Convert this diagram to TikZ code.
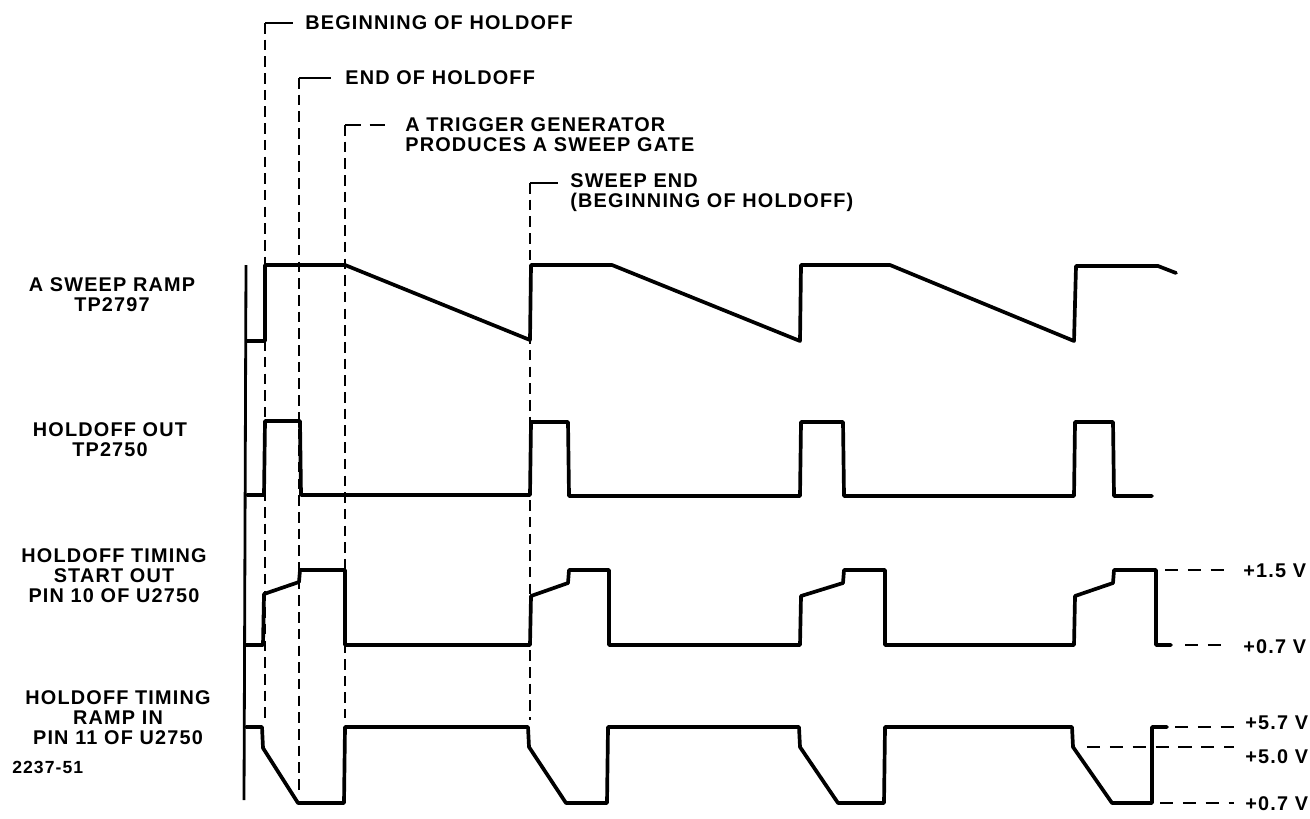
\documentclass[tikz,border=0pt]{standalone}
\usepackage{fontspec}
\newfontfamily\lblfont[LetterSpace=6]{Liberation Sans}
\usetikzlibrary{positioning}

\begin{document}
\begin{tikzpicture}[
  x=0.02cm, y=-0.02cm,
  trace/.style={line width=2.1pt, line join=round, line cap=round},
  axisline/.style={line width=1.6pt},
  marker/.style={line width=0.9pt, dash pattern=on 6pt off 3.5pt},
  leader/.style={line width=0.9pt},
  level/.style={line width=1pt, dash pattern=on 7.5pt off 5.5pt},
  lbl/.style={font=\lblfont\bfseries\fontsize{11.3}{11.4}\selectfont, inner sep=0pt},
  sig/.style={lbl, align=center}
]
\useasboundingbox (0,0) rectangle (1310,818);

% signal names
\node[sig] (ramp) at (112,295) {A SWEEP RAMP\\TP2797};
\node[sig] (hout) at (110,440) {HOLDOFF OUT\\TP2750};
\node[sig] (tstart) at (114,576) {HOLDOFF TIMING\\START OUT\\PIN 10 OF U2750};
\node[sig] (tramp) at (118,718) {HOLDOFF TIMING\\RAMP IN\\PIN 11 OF U2750};
\node[lbl, font=\lblfont\bfseries\fontsize{10}{11}\selectfont, anchor=west] (fig) at (12,767) {2237-51};

% time markers
\node[lbl, anchor=west] (bhold) at (305,23) {BEGINNING OF HOLDOFF};
\node[lbl, anchor=west] (ehold) at (345,78) {END OF HOLDOFF};
\node[lbl, anchor=west, align=left] (trig) at (405,135) {A TRIGGER GENERATOR\\PRODUCES A SWEEP GATE};
\node[lbl, anchor=west, align=left] (send) at (570,193) {SWEEP END\\(BEGINNING OF HOLDOFF)};
\coordinate (mk1) at (265,718);
\coordinate (mk2) at (299,790);
\coordinate (mk3) at (345,718);
\coordinate (mk4) at (530,720);
\coordinate (top1) at (mk1 |- bhold.west);
\coordinate (top2) at (mk2 |- ehold.west);
\coordinate (top3) at ([yshift=5.7pt]mk3 |- trig.west);
\coordinate (top4) at ([yshift=5.7pt]mk4 |- send.west);
\draw[leader] ([xshift=-7pt]bhold.west) -- (top1);
\draw[marker] (top1) -- (mk1);
\draw[leader] ([xshift=-8pt]ehold.west) -- (top2);
\draw[marker] (top2) -- (mk2);
\draw[marker, dash pattern=on 9pt off 5pt] (top3) -- ([xshift=-10pt]trig.west |- top3);
\draw[marker] (top3) -- (mk3);
\draw[leader] ([xshift=-7pt]send.west |- top4) -- (top4);
\draw[marker] (top4) -- (mk4);

% axis
\draw[axisline] (246,265) -- (244,800);

% A sweep ramp
\draw[trace] (247,341) -- (265,341) -- (265,265) -- (345,265) -- (530,340)
  -- (531,265) -- (612,265) -- (800,341) -- (801,265) -- (890,265)
  -- (1074,341) -- (1076,266) -- (1158,266) -- (1176,273);

% holdoff out
\draw[trace] (247,495) -- (264,495) -- (265,421) -- (300,421) -- (301,495)
  -- (530,495) -- (531,422) -- (568,422) -- (569,496) -- (800,496)
  -- (801,422) -- (843,422) -- (844,496) -- (1074,496) -- (1075,422)
  -- (1113,422) -- (1114,496) -- (1152,496);

% holdoff timing start out
\draw[trace] (246,645) -- (263,645) -- (264,594) -- (299,582) -- (300,570)
  -- (345,570) -- (345,645) -- (530,645) -- (531,596) -- (568,583)
  -- (569,570) -- (609,570) -- (609,645) -- (800,645) -- (801,596)
  -- (843,583) -- (844,570) -- (885,570) -- (885,645) -- (1074,645)
  -- (1075,596) -- (1113,583) -- (1114,570) -- (1156,570) -- (1156,645)
  -- (1171,645);

% holdoff timing ramp in
\draw[trace] (246,727) -- (262,727) -- (263,748) -- (298,803) -- (344,803)
  -- (345,727) -- (528,727) -- (529,747) -- (566,803) -- (607,803)
  -- (608,727) -- (799,727) -- (800,747) -- (838,803) -- (884,803)
  -- (885,727) -- (1072,727) -- (1073,747) -- (1112,803) -- (1152,803)
  -- (1152,727) -- (1167,727);

% voltage levels
\node[lbl, anchor=west] (v15) at (1243,571) {+1.5 V};
\node[lbl, anchor=west] (v07a) at (1243,647) {+0.7 V};
\node[lbl, anchor=west] (v57) at (1245,723) {+5.7 V};
\node[lbl, anchor=west] (v50) at (1245,757) {+5.0 V};
\node[lbl, anchor=west] (v07b) at (1245,804) {+0.7 V};
\coordinate (l15) at (1165,570);
\coordinate (l07a) at (1185,645);
\coordinate (l57) at (1175,727);
\coordinate (l50) at (1087,747);
\coordinate (l07b) at (1160,803);
\draw[level] (l15) -- ([xshift=-7pt]l15 -| v15.west);
\draw[level] (l07a) -- ([xshift=-10pt]l07a -| v07a.west);
\draw[level] (l57) -- ([xshift=-6pt]l57 -| v57.west);
\draw[level] (l50) -- ([xshift=-6pt]l50 -| v50.west);
\draw[level] (l07b) -- ([xshift=-6pt]l07b -| v07b.west);
\end{tikzpicture}
\end{document}
